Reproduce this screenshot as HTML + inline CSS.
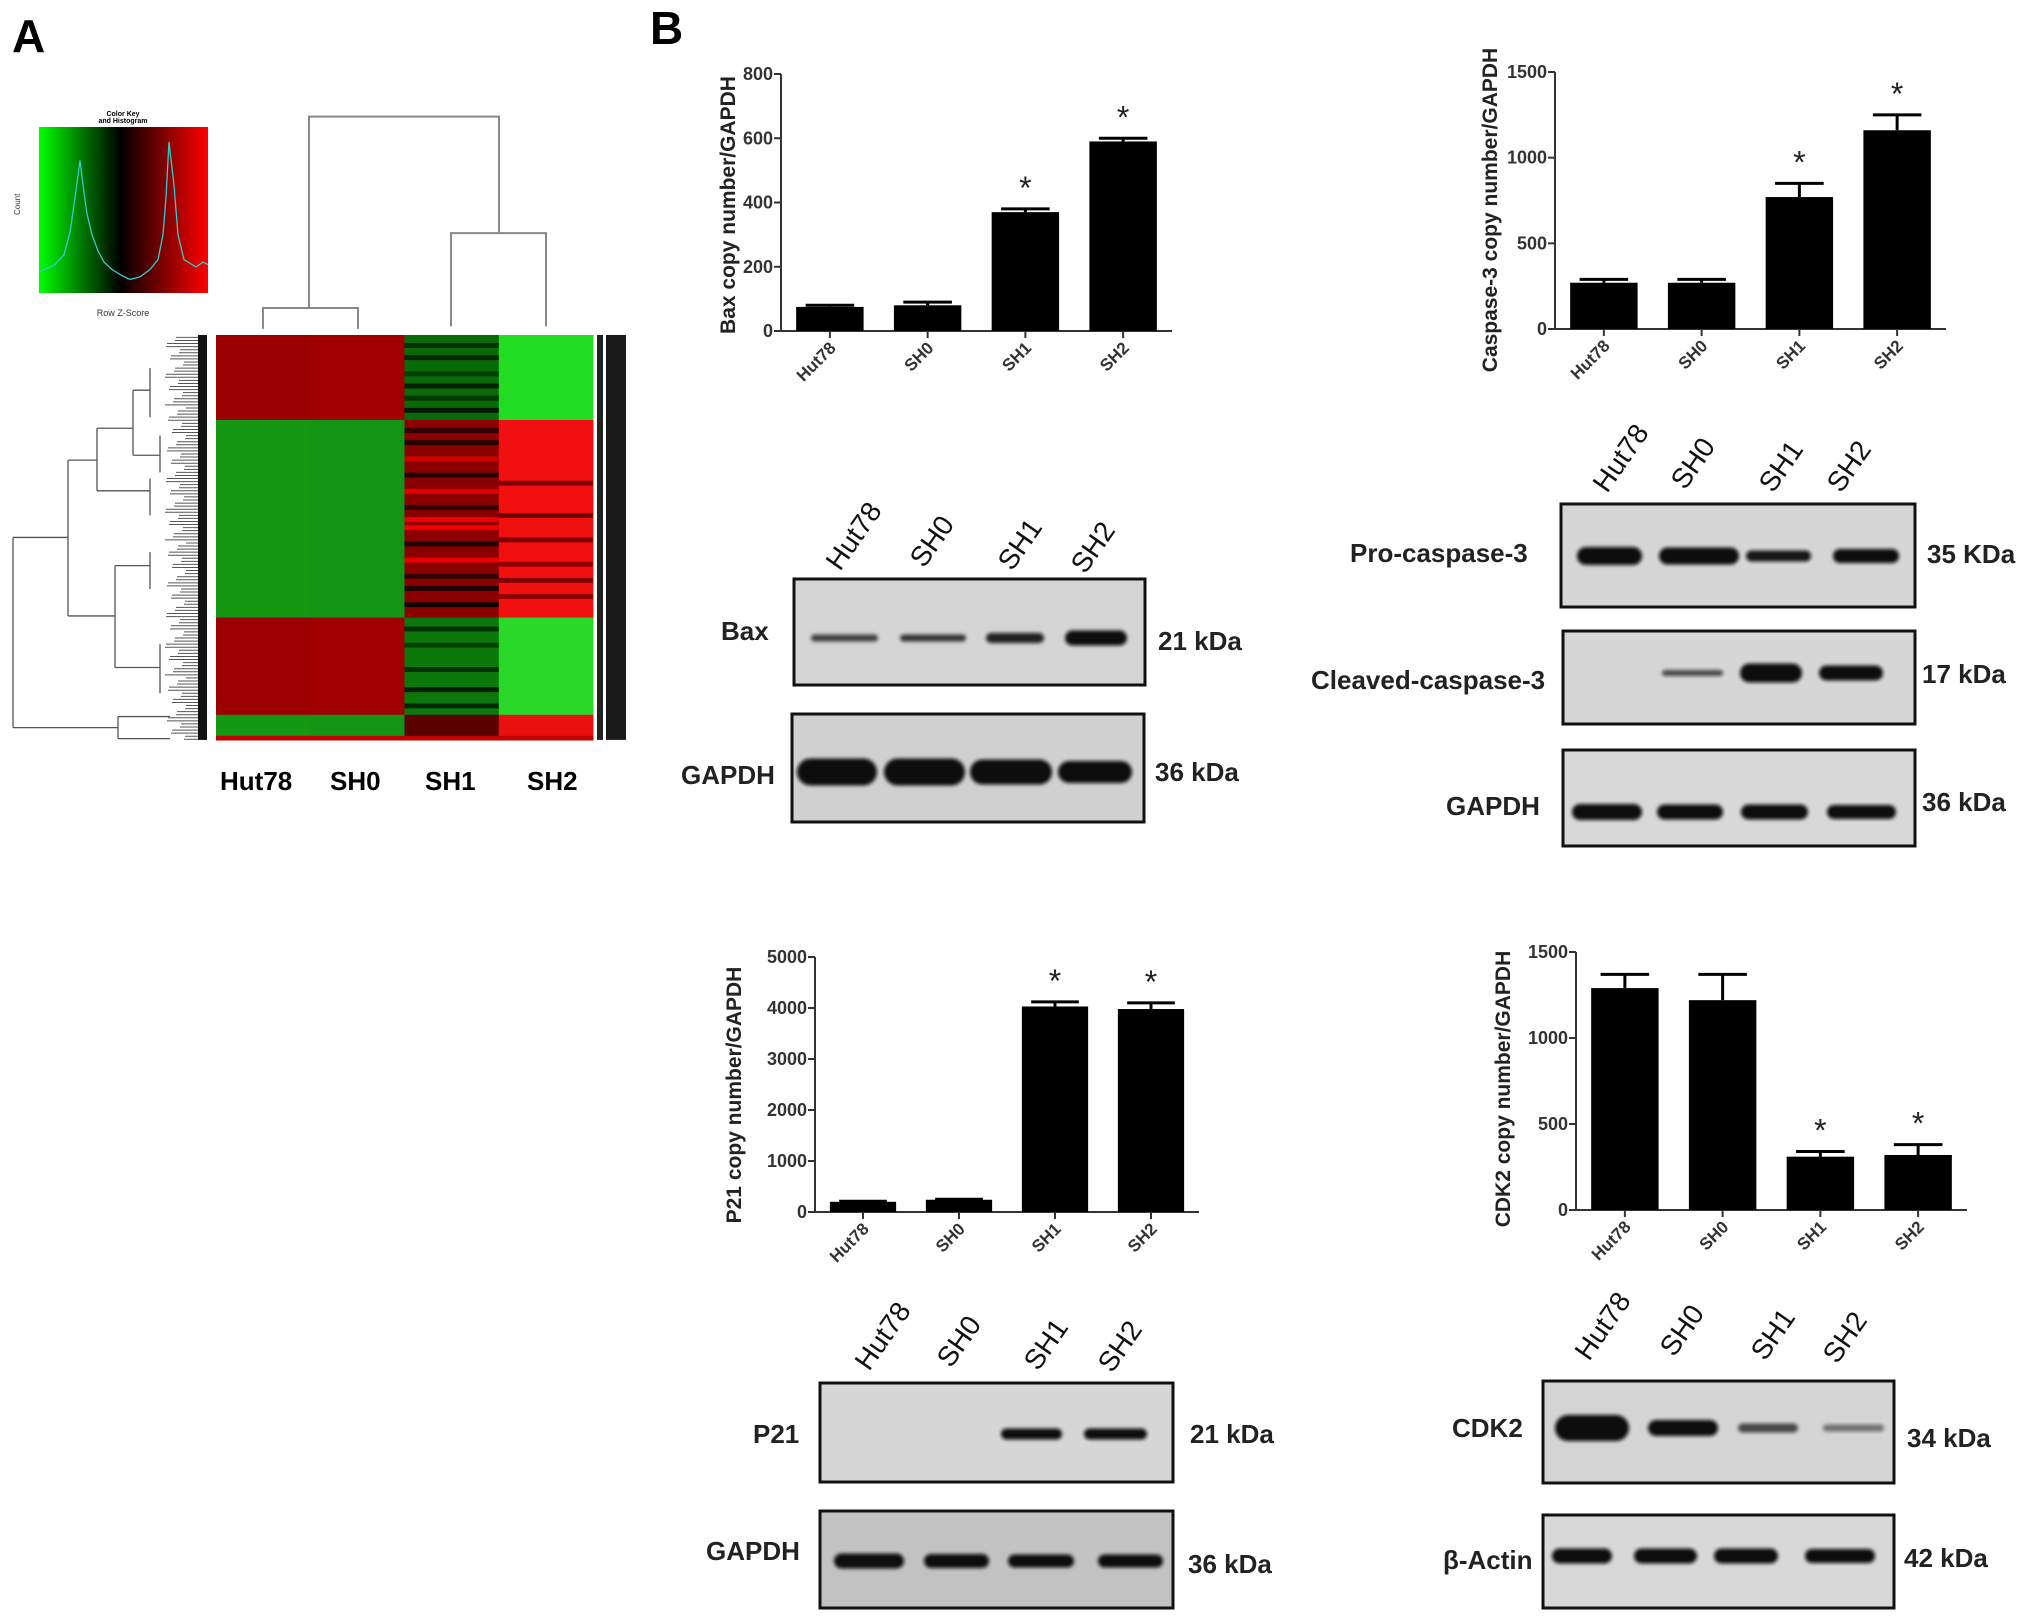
<!DOCTYPE html>
<html><head><meta charset="utf-8">
<style>
html,body{margin:0;padding:0;background:#fff;}
svg{display:block;font-family:"Liberation Sans",Arial,sans-serif;}
.ns{vector-effect:non-scaling-stroke;}
</style></head>
<body>
<svg id="fig" width="2031" height="1618" viewBox="0 0 2031 1618" xmlns="http://www.w3.org/2000/svg">
<defs>
  <linearGradient id="keyGrad" x1="0" x2="1" y1="0" y2="0">
    <stop offset="0" stop-color="#00ff00"/>
    <stop offset="0.48" stop-color="#000"/>
    <stop offset="1" stop-color="#ff0000"/>
  </linearGradient>
  <filter id="blur" x="-20%" y="-100%" width="140%" height="300%"><feGaussianBlur stdDeviation="1.8"/></filter>
</defs>

<!-- Panel A -->
<text x="12" y="52" font-size="46" font-weight="bold">A</text>
<g>
  <g transform="matrix(1,0,0,1.239,0,-0.6)">
    <rect x="39" y="103" width="169" height="134" fill="url(#keyGrad)"/>
    <polyline class="ns" fill="none" stroke="#3cc" stroke-width="1.3" points="39,220 55,214 64,206 70,188 75,160 80,130 84,156 87,173 92,190 98,203 104,212 112,218 122,223 130,226 140,224 150,218 158,210 163,190 166,160 169,115 174,150 178,190 184,210 196,216 203,212 208,214"/>
  </g>
  <text x="123" y="116" font-size="7" font-weight="bold" text-anchor="middle">Color Key</text>
  <text x="123" y="123" font-size="7" font-weight="bold" text-anchor="middle">and Histogram</text>
  <text x="123" y="316" font-size="9" text-anchor="middle" fill="#333">Row Z-Score</text>
  <text x="20" y="215" font-size="8" fill="#333" transform="rotate(-90 20 215)">Count</text>
</g>
<g transform="matrix(1,0,0,1.227,0,0)">
<g id="coldendro" stroke="#888" stroke-width="2" fill="none">
  <polyline class="ns" points="263,268 263,251 358,251 358,268"/>
  <polyline class="ns" points="451,266 451,190 546,190 546,266"/>
  <polyline class="ns" points="309,251 309,95 499,95 499,190"/>
</g>
<g id="rowdendro" stroke="#555" stroke-width="1.3" fill="none"></g>
<g id="heatmap"></g>
<rect x="597" y="273" width="6" height="330" fill="#222"/>
<rect x="606" y="273" width="20" height="330" fill="#1a1a1a"/>
</g>
<g font-size="26" font-weight="bold">
  <text x="220" y="790">Hut78</text><text x="330" y="790">SH0</text><text x="425" y="790">SH1</text><text x="527" y="790">SH2</text>
</g>

<text x="650" y="44" font-size="46" font-weight="bold">B</text>
<g id="charts"></g>
<g id="blots"></g>
</svg>

<script>
var NS = "http://www.w3.org/2000/svg";
function mk(tag, attrs, parent) {
  var e = document.createElementNS(NS, tag);
  for (var k in attrs) e.setAttribute(k, attrs[k]);
  if (parent) parent.appendChild(e);
  return e;
}

// ---------- Bar chart data ----------
var categories = ["Hut78", "SH0", "SH1", "SH2"];
var baxValues = [75, 80, 370, 590];
var baxErrors = [80, 90, 380, 600];
var baxTicks = [0, 200, 400, 600, 800];
var casp3Values = [270, 270, 770, 1160];
var casp3Errors = [290, 290, 850, 1250];
var casp3Ticks = [0, 500, 1000, 1500];
var p21Values = [200, 240, 4030, 3980];
var p21Errors = [210, 250, 4120, 4100];
var p21Ticks = [0, 1000, 2000, 3000, 4000, 5000];
var cdk2Values = [1290, 1220, 310, 320];
var cdk2Errors = [1370, 1370, 340, 380];
var cdk2Ticks = [0, 500, 1000, 1500];
var baxSig = [false, false, true, true];
var casp3Sig = [false, false, true, true];
var p21Sig = [false, false, true, true];
var cdk2Sig = [false, false, true, true];

function barChart(name, title, values, errors, ticks, sig, L) {
  var g = mk("g", {}, document.getElementById("charts"));
  
  
  var max = ticks[ticks.length - 1];
  function y(v) { return L.yBot - v / max * (L.yBot - L.yTop); }
  var band = (L.x1 - L.x0) / values.length;
  function xc(i) { return L.x0 + band * (i + 0.5); }
  var bw = band * 0.69;
  var ax = mk("line", {x1: L.x0, y1: L.yTop, x2: L.x0, y2: L.yBot, stroke: "#333", "stroke-width": 2}, g);
  
  
  var bx = mk("line", {x1: L.x0, y1: L.yBot, x2: L.x1, y2: L.yBot, stroke: "#333", "stroke-width": 2}, g);
  
  
  ticks.forEach(function (t) {
    mk("line", {x1: L.x0 - 7, y1: y(t), x2: L.x0, y2: y(t), stroke: "#333", "stroke-width": 2}, g);
    var tl = mk("text", {x: L.x0 - 8, y: y(t) + 6, "font-size": 18, "font-weight": "bold", fill: "#333", "text-anchor": "end"}, g);
    tl.textContent = t;
    
    
  });
  values.forEach(function (v, i) {
    var cx = xc(i);
    var b = mk("rect", {x: cx - bw / 2, y: y(v), width: bw, height: L.yBot - y(v), fill: "#000"}, g);
    
    
    var ey = y(errors[i]);
    var cap = bw * 0.36;
    mk("line", {x1: cx, y1: y(v), x2: cx, y2: ey, stroke: "#000", "stroke-width": 3}, g);
    var ec = mk("line", {x1: cx - cap, y1: ey, x2: cx + cap, y2: ey, stroke: "#000", "stroke-width": 3}, g);
    
    
    mk("line", {x1: cx, y1: L.yBot, x2: cx, y2: L.yBot + 7, stroke: "#333", "stroke-width": 2}, g);
    if (sig[i]) {
      var s = mk("text", {x: cx, y: ey - 10, "font-size": 32, "text-anchor": "middle", fill: "#222"}, g);
      s.textContent = "*";
      
      
    }
    var lx = cx + 7, ly = L.yBot + 18;
    var tl = mk("text", {x: lx, y: ly, "font-size": 17, "font-weight": "bold", fill: "#333", "text-anchor": "end", transform: "rotate(-45 " + lx + " " + ly + ")"}, g);
    tl.textContent = categories[i];
    
    
  });
  var tx = L.titleX, ty = L.titleY;
  var tt = mk("text", {x: tx, y: ty, "font-size": 21, "font-weight": "bold", fill: "#222", "text-anchor": "middle", transform: "rotate(-90 " + tx + " " + ty + ")"}, g);
  tt.textContent = title;
  
  
}

barChart("bax", "Bax copy number/GAPDH", baxValues, baxErrors, baxTicks, baxSig,
  {x0: 781, x1: 1172, yTop: 74, yBot: 331, titleX: 735, titleY: 205});
barChart("caspase3", "Caspase-3 copy number/GAPDH", casp3Values, casp3Errors, casp3Ticks, casp3Sig,
  {x0: 1555, x1: 1946, yTop: 72, yBot: 329, titleX: 1497, titleY: 210});
barChart("p21", "P21 copy number/GAPDH", p21Values, p21Errors, p21Ticks, p21Sig,
  {x0: 815, x1: 1199, yTop: 957, yBot: 1212, titleX: 741, titleY: 1095});
barChart("cdk2", "CDK2 copy number/GAPDH", cdk2Values, cdk2Errors, cdk2Ticks, cdk2Sig,
  {x0: 1576, x1: 1967, yTop: 952, yBot: 1210, titleX: 1510, titleY: 1089});

// ---------- Western blots ----------
var blots = [
  {name: "bax-blot", dx: -2, box: [796, 579, 351, 106], fill: "#d4d4d4", label: "Bax", lx: 723, ly: 640, kda: "21 kDa", kx: 1160, ky: 650, by: 638,
   bands: [[813, 880, 7, 0.75], [902, 968, 7, 0.8], [988, 1046, 10, 0.9], [1067, 1129, 15, 1]]},
  {name: "bax-gapdh-blot", dx: -2, box: [794, 714, 352, 108], fill: "#d0d0d0", label: "GAPDH", lx: 683, ly: 784, kda: "36 kDa", kx: 1157, ky: 781, by: 772,
   bands: [[799, 879, 27, 1], [886, 967, 27, 1], [972, 1054, 25, 1], [1060, 1134, 22, 1]]},
  {name: "procaspase3-blot", dx: -6, box: [1567, 504, 354, 103], fill: "#d6d6d6", label: "Pro-caspase-3", lx: 1356, ly: 562, kda: "35 KDa", kx: 1933, ky: 563, by: 556,
   bands: [[1583, 1648, 18, 1], [1665, 1745, 17, 1], [1752, 1817, 11, 0.95], [1839, 1905, 14, 1]]},
  {name: "cleaved-caspase3-blot", dx: -6, box: [1569, 631, 352, 93], fill: "#d6d6d6", label: "Cleaved-caspase-3", lx: 1317, ly: 689, kda: "17 kDa", kx: 1928, ky: 683, by: 673,
   bands: [[1668, 1729, 6, 0.7], [1746, 1808, 19, 1], [1825, 1889, 15, 1]]},
  {name: "caspase-gapdh-blot", dx: -6, box: [1569, 750, 352, 96], fill: "#d8d8d8", label: "GAPDH", lx: 1452, ly: 815, kda: "36 kDa", kx: 1928, ky: 811, by: 812,
   bands: [[1578, 1648, 16, 1], [1663, 1729, 15, 1], [1747, 1814, 15, 1], [1833, 1902, 14, 1]]},
  {name: "p21-blot", dx: -2, box: [822, 1383, 353, 99], fill: "#d6d6d6", label: "P21", lx: 755, ly: 1443, kda: "21 kDa", kx: 1192, ky: 1443, by: 1434,
   bands: [[1003, 1064, 11, 1], [1086, 1149, 11, 1]]},
  {name: "p21-gapdh-blot", dx: -2, box: [822, 1511, 353, 97], fill: "#c2c2c2", label: "GAPDH", lx: 708, ly: 1560, kda: "36 kDa", kx: 1190, ky: 1573, by: 1561,
   bands: [[836, 906, 15, 1], [926, 991, 14, 1], [1010, 1076, 13, 1], [1100, 1165, 13, 1]]},
  {name: "cdk2-blot", dx: -4, box: [1547, 1381, 351, 102], fill: "#d4d4d4", label: "CDK2", lx: 1456, ly: 1437, kda: "34 kDa", kx: 1911, ky: 1447, by: 1428,
   bands: [[1559, 1633, 26, 1], [1652, 1722, 16, 1], [1742, 1802, 9, 0.7], [1827, 1888, 7, 0.5]]},
  {name: "beta-actin-blot", dx: -4, box: [1547, 1515, 351, 93], fill: "#d8d8d8", label: "\u03b2-Actin", lx: 1447, ly: 1569, kda: "42 kDa", kx: 1908, ky: 1567, by: 1556,
   bands: [[1556, 1616, 15, 1], [1638, 1701, 15, 1], [1718, 1782, 15, 1], [1809, 1879, 14, 1]]}
];
var laneLabelSets = [
  {name: "bax-lane-labels", dx: -2, pts: [[842, 572], [926, 569], [1014, 572], [1087, 575]]},
  {name: "caspase-lane-labels", dx: -5, pts: [[1612, 494], [1690, 491], [1778, 494], [1846, 494]]},
  {name: "p21-lane-labels", dx: -2, pts: [[871, 1372], [953, 1369], [1040, 1372], [1114, 1374]]},
  {name: "cdk2-lane-labels", dx: -3, pts: [[1592, 1362], [1677, 1358], [1768, 1362], [1840, 1365]]}
];
var bg = document.getElementById("blots");
blots.forEach(function (b) {
  var g = mk("g", {transform: "translate(" + b.dx + ",0)"}, bg);
  
  
  mk("rect", {x: b.box[0], y: b.box[1], width: b.box[2], height: b.box[3], fill: b.fill, stroke: "#111", "stroke-width": 3}, g);
  b.bands.forEach(function (bd) {
    var e = mk("rect", {x: bd[0], y: b.by - bd[2] / 2, width: bd[1] - bd[0], height: bd[2], rx: bd[2] / 2, fill: "#111", opacity: bd[3], filter: "url(#blur)"}, g);
    
    
  });
  var t = mk("text", {x: b.lx, y: b.ly, "font-size": 26, "font-weight": "bold", fill: "#222"}, g);
  t.textContent = b.label;
  
  
  var k = mk("text", {x: b.kx, y: b.ky, "font-size": 26, "font-weight": "bold", fill: "#222"}, g);
  k.textContent = b.kda;
  
  
});
laneLabelSets.forEach(function (s) {
  var g = mk("g", {transform: "translate(" + s.dx + ",0)"}, bg);
  
  
  s.pts.forEach(function (p, i) {
    var t = mk("text", {x: p[0], y: p[1], "font-size": 28, fill: "#111", transform: "rotate(-55 " + p[0] + " " + p[1] + ")"}, g);
    t.textContent = categories[i];
    
    
  });
});

// ---------- Heatmap ----------
var hmX0 = 216, hmX1 = 593, hmY0 = 273, hmY1 = 603;
var hmBlocks = [
  [0.00, 0.21, "#9a0000", "#a00000", "#0a6a0a", "#22dd22"],
  [0.21, 0.698, "#149814", "#149414", "#8a0000", "#f01010"],
  [0.698, 0.938, "#9c0000", "#a00000", "#0c780c", "#2ad82a"],
  [0.938, 0.99, "#149814", "#149414", "#5a0000", "#e81010"],
  [0.99, 1.0, "#c00000", "#c00000", "#c00000", "#c00000"]
];
var hmStripes = [
  [0.02, 2, "#003000"], [0.05, 2, "#002800"], [0.09, 2, "#004000"], [0.12, 2, "#002000"], [0.15, 2, "#003800"], [0.18, 2, "#001800"],
  [0.23, 2, "#300000"], [0.26, 2, "#200000"], [0.30, 2, "#d00000"], [0.34, 2, "#200000"], [0.38, 2, "#e00000"], [0.42, 2, "#300000"],
  [0.45, 2, "#f00000"], [0.47, 2, "#f00000"], [0.51, 2, "#200000"], [0.55, 2, "#e80000"], [0.59, 2, "#300000"], [0.62, 2, "#200000"], [0.66, 2, "#100000"],
  [0.36, 3, "#800000"], [0.44, 3, "#700000"], [0.50, 3, "#800000"], [0.56, 3, "#900000"], [0.60, 3, "#800000"], [0.64, 3, "#900000"],
  [0.72, 2, "#003000"], [0.76, 2, "#004000"], [0.82, 2, "#003000"], [0.87, 2, "#002000"], [0.91, 2, "#002800"]
];
var hm = document.getElementById("heatmap");
var cw = (hmX1 - hmX0) / 4, hh = hmY1 - hmY0;
hmBlocks.forEach(function (b) {
  for (var c = 0; c < 4; c++) {
    var r = mk("rect", {x: hmX0 + c * cw, y: hmY0 + b[0] * hh, width: cw + 0.5, height: (b[1] - b[0]) * hh + 0.5, fill: b[2 + c]}, hm);
    
    
  }
});
hmStripes.forEach(function (s) {
  var r = mk("rect", {x: hmX0 + s[1] * cw, y: hmY0 + s[0] * hh, width: cw, height: 4, fill: s[2]}, hm);
  
  
});

// ---------- Row dendrogram ----------
var rd = document.getElementById("rowdendro");
var dendroV = [[13, 438, 593], [68, 375, 502], [97, 349, 400], [115, 461, 544], [118, 584, 602], [133, 318, 371], [150, 300, 340], [150, 390, 420], [150, 450, 480], [160, 355, 385], [160, 525, 565]];
var dendroH = [[13, 68, 438], [13, 118, 593], [68, 97, 375], [68, 115, 502], [97, 133, 349], [97, 150, 400], [115, 150, 461], [115, 160, 544], [133, 150, 318], [133, 160, 371], [118, 170, 584], [118, 170, 602]];
dendroV.forEach(function (d) { mk("line", {x1: d[0], y1: d[1], x2: d[0], y2: d[2], "class": "ns"}, rd); });
dendroH.forEach(function (d) { mk("line", {x1: d[0], y1: d[2], x2: d[1], y2: d[2], "class": "ns"}, rd); });
for (var yy = 275; yy < 603; yy += 2.5) {
  mk("line", {x1: 165 + (Math.round(yy) * 7 % 22), y1: yy, x2: 207, y2: yy, "stroke-width": 1, "class": "ns"}, rd);
}
mk("rect", {x: 198, y: 273, width: 9, height: 330, fill: "#111", stroke: "none"}, rd);
</script>
</body></html>
